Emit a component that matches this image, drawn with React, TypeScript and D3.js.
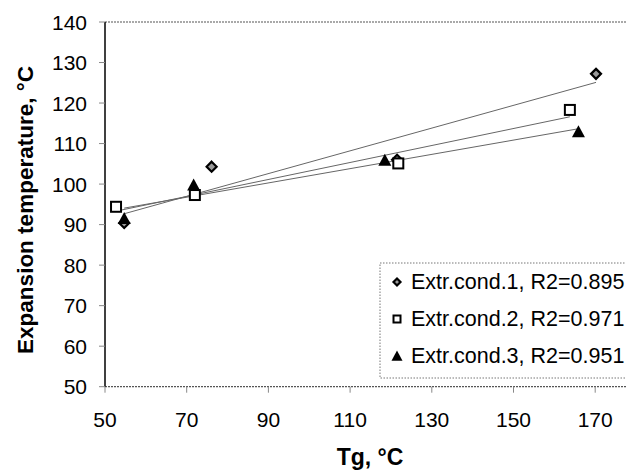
import React from "react";
import * as d3 from "d3";

// Glass transition temperature (Tg, °C) vs expansion temperature (°C)
const cond1Tg = [54.7, 76.1, 121.5, 170.2];
const cond1Exp = [90.4, 104.3, 106.0, 127.2];
const cond2Tg = [52.7, 72.0, 121.8, 163.8];
const cond2Exp = [94.4, 97.3, 105.1, 118.3];
const cond3Tg = [54.7, 71.7, 118.5, 165.9];
const cond3Exp = [91.5, 99.8, 105.9, 112.9];

const seriesNames = [
  "Extr.cond.1, R2=0.895",
  "Extr.cond.2, R2=0.971",
  "Extr.cond.3, R2=0.951",
];
const xTicks = [50, 70, 90, 110, 130, 150, 170];
const yTicks = [50, 60, 70, 80, 90, 100, 110, 120, 130, 140];

const W = 626;
const H = 475;
const left = 105;
const top = 22;
const bottom = 386.7;
const font = "'Liberation Sans', Arial, sans-serif";

function fit(xs: number[], ys: number[]) {
  const mx = d3.mean(xs)!;
  const my = d3.mean(ys)!;
  let sxy = 0;
  let sxx = 0;
  xs.forEach((x, i) => {
    sxy += (x - mx) * (ys[i] - my);
    sxx += (x - mx) * (x - mx);
  });
  const b = sxy / sxx;
  const a = my - b * mx;
  const [x0, x1] = d3.extent(xs) as [number, number];
  return [
    [x0, a + b * x0],
    [x1, a + b * x1],
  ];
}

function Marker({ kind, x, y, s }: { kind: number; x: number; y: number; s: number }) {
  if (kind === 0) {
    const r = s / 2 - 1;
    return (
      <path
        d={`M${x},${y - r}L${x + r},${y}L${x},${y + r}L${x - r},${y}Z`}
        fill="#999"
        stroke="#000"
        strokeWidth={2.2}
      />
    );
  }
  if (kind === 1) {
    const r = s / 2 - 1;
    return <rect x={x - r} y={y - r} width={2 * r} height={2 * r} fill="#fff" stroke="#000" strokeWidth={2} />;
  }
  const hw = s / 2;
  return <path d={`M${x},${y - hw}L${x + hw},${y + hw * 0.85}L${x - hw},${y + hw * 0.85}Z`} fill="#000" />;
}

export default function App() {
  const x = d3.scaleLinear().domain([50, 180]).range([left, left + 6.5 * 81.7]);
  const y = d3.scaleLinear().domain([50, 140]).range([bottom, top]);
  const series = [
    { xs: cond1Tg, ys: cond1Exp },
    { xs: cond2Tg, ys: cond2Exp },
    { xs: cond3Tg, ys: cond3Exp },
  ];
  const line = d3
    .line<number[]>()
    .x((d) => x(d[0]))
    .y((d) => y(d[1]));

  return (
    <svg width={W} height={H} style={{ position: "absolute", left: 0, top: 0, background: "#fff" }} fontFamily={font}>
      <rect width={W} height={H} fill="#fff" />
      {/* frame */}
      <line x1={left} x2={W} y1={top} y2={top} stroke="#555" strokeWidth={1.2} strokeDasharray="2,1" />
      <line x1={left} x2={W} y1={bottom} y2={bottom} stroke="#555" strokeWidth={1.2} strokeDasharray="2,1" />
      <line x1={left} x2={left} y1={top} y2={bottom} stroke="#000" strokeWidth={1.5} />
      {/* y ticks */}
      {yTicks.map((t) => (
        <g key={"y" + t}>
          <line x1={left - 6} x2={left} y1={y(t)} y2={y(t)} stroke="#888" />
          <text x={87} y={y(t) + 7.5} textAnchor="end" fontSize={21} fill="#000">
            {t}
          </text>
        </g>
      ))}
      {/* x ticks */}
      {xTicks.map((t) => (
        <g key={"x" + t}>
          <line x1={x(t)} x2={x(t)} y1={bottom} y2={bottom + 6} stroke="#888" />
          <text x={x(t)} y={427} textAnchor="middle" fontSize={21} fill="#000">
            {t}
          </text>
        </g>
      ))}
      {/* trend lines */}
      {series.map((s, i) => (
        <path key={"l" + i} d={line(fit(s.xs, s.ys))!} fill="none" stroke="#666" strokeWidth={1} />
      ))}
      {/* points */}
      {series.map((s, i) =>
        s.xs.map((v, j) => <Marker key={`p${i}-${j}`} kind={i} x={x(v)} y={y(s.ys[j])} s={i === 2 ? 13 : 12} />)
      )}
      {/* legend */}
      <rect x={380} y={263} width={260} height={115} fill="#fff" stroke="#777" strokeDasharray="1.5,1.5" />
      {seriesNames.map((n, i) => (
        <g key={"lg" + i}>
          <Marker kind={i} x={397} y={282 + i * 37} s={i === 2 ? 11 : 9} />
          <text x={411} y={289 + i * 37} fontSize={21.5} fill="#000">
            {n}
          </text>
        </g>
      ))}
      {/* axis titles */}
      <text
        transform="translate(33,210) rotate(-90)"
        textAnchor="middle"
        fontSize={22.5}
        fontWeight="bold"
        fill="#000"
      >
        Expansion temperature, °C
      </text>
      <text x={370} y={465} textAnchor="middle" fontSize={23} fontWeight="bold" fill="#000">
        Tg, °C
      </text>
    </svg>
  );
}
